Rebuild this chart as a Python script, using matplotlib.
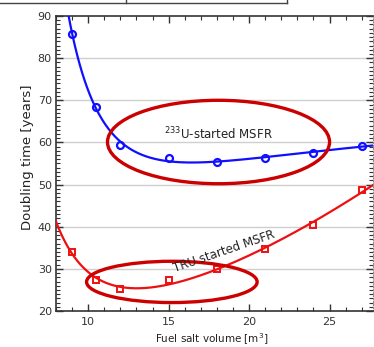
import numpy as np
import matplotlib
matplotlib.use("Agg")
import matplotlib.pyplot as plt
from matplotlib.patches import Ellipse
from matplotlib.ticker import MultipleLocator
from matplotlib.lines import Line2D

# Doubling time versus fuel salt volume for two MSFR start-up modes
volume_u233 = [9.0, 10.5, 12.0, 15.0, 18.0, 21.0, 24.0, 27.0]
doubling_u233 = [85.8, 68.5, 59.3, 56.2, 55.4, 56.3, 57.6, 59.2]

volume_tru = [9.0, 10.5, 12.0, 15.0, 18.0, 21.0, 24.0, 27.0]
doubling_tru = [33.9, 27.4, 25.2, 27.3, 30.0, 34.8, 40.5, 48.6]

x_ticks = [10, 15, 20, 25]
y_ticks = [20, 30, 40, 50, 60, 70, 80, 90]


def trend_basis(x):
    x = np.asarray(x, dtype=float)
    return np.column_stack([np.ones_like(x), x, x ** 2, (10.0 / x) ** 3])


fig = plt.figure(figsize=(3.74, 3.47), dpi=100)
ax = fig.add_axes([56 / 374, 1 - 311 / 347, (373 - 56) / 374, (311 - 16) / 347])
ax.set_xlim(8, 27.7)
ax.set_ylim(20, 90)

# smooth least-squares trend lines through each series
xs = np.linspace(8, 27.7, 400)
cu = np.polyfit(1.0 / np.array(volume_u233), doubling_u233, 4)
ax.plot(xs, np.polyval(cu, 1.0 / xs), color="#1010ff", lw=1.6, zorder=3)
ct, *_ = np.linalg.lstsq(trend_basis(volume_tru), np.array(doubling_tru),
                         rcond=None)
ax.plot(xs, trend_basis(xs) @ ct, color="#ee1010", lw=1.6, zorder=3)

ax.plot(volume_u233, doubling_u233, "o", ms=5, mfc="none", mec="#1010ff",
        mew=1.6, zorder=4)
ax.plot(volume_tru, doubling_tru, "s", ms=4.5, mfc="none", mec="#ee1010",
        mew=1.4, zorder=4)

# highlighted regions
ax.add_patch(Ellipse((18.1, 60.1), 13.8, 19.8, fill=False, ec="#cc0000",
                     lw=2.4, zorder=5))
ax.add_patch(Ellipse((15.2, 26.9), 10.6, 9.8, fill=False, ec="#cc0000",
                     lw=2.4, zorder=5))

ax.text(14.7, 60.8, r"$^{233}$U-started MSFR", fontsize=8.5,
        color="#222222", zorder=6)
ax.text(15.4, 29.3, "TRU started MSFR", fontsize=8.5,
        color="#222222", rotation=19, rotation_mode="anchor", zorder=6)

# axes styling
ax.set_xticks(x_ticks)
ax.set_yticks(y_ticks)
ax.xaxis.set_minor_locator(MultipleLocator(1))
ax.yaxis.set_minor_locator(MultipleLocator(1))
ax.tick_params(which="both", direction="in", top=True, right=True,
               colors="#333333", labelsize=8)
ax.tick_params(which="major", length=5, width=1)
ax.tick_params(which="minor", length=3, width=0.8)
ax.tick_params(axis="x", pad=4)
ax.tick_params(axis="y", pad=3)
for lab in ax.get_xticklabels() + ax.get_yticklabels():
    lab.set_color("#333333")
for g in [30, 40, 50, 60, 70, 80]:
    ax.axhline(g, color="#cfcfcf", lw=1, zorder=1)
for s in ["left", "bottom", "top"]:
    ax.spines[s].set_color("#333333")
    ax.spines[s].set_linewidth(1.2)
ax.spines["right"].set_linestyle(":")
ax.spines["right"].set_color("#888888")

fig.text(28 / 374, 1 - 157 / 347, "Doubling time [years]", rotation=90,
         ha="center", va="center", fontsize=9.5, color="#222222")
fig.text(212 / 374, 1 - 339 / 347, "Fuel salt volume [m$^3$]",
         ha="center", va="center", fontsize=7.5, color="#222222")

# edge of the frame above the chart
for xy in [([0, 287], [3, 3]), ([126, 126], [0, 3]), ([287, 287], [0, 3])]:
    fig.add_artist(Line2D(np.array(xy[0]) / 374, 1 - np.array(xy[1]) / 347,
                          color="#444444", lw=1))

fig.savefig("out.png", dpi=100)
